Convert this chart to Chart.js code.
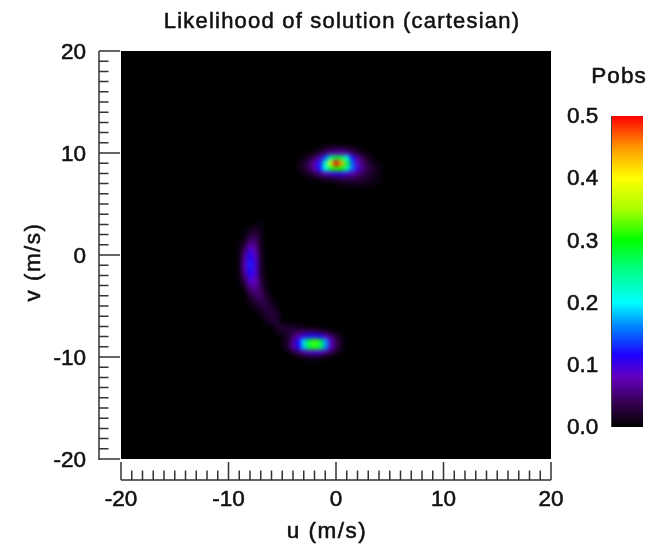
<!DOCTYPE html>
<html><head><meta charset="utf-8">
<script src="https://cdn.jsdelivr.net/npm/chart.js@4.4.1/dist/chart.umd.min.js"></script>
<style>html,body{margin:0;padding:0;background:#fff;}canvas{display:block;}</style>
</head><body>
<canvas id="c" width="651" height="544"></canvas>
<script>
// ---------- text ----------
const titleText = 'Likelihood of solution (cartesian)';
const uTitle = 'u (m/s)';
const vTitle = 'v (m/s)';
const cbTitle = 'Pobs';

// ---------- axes ----------
const uRange = [-20, 20];
const vRange = [-20, 20];
const majorTicks = [-20, -10, 0, 10, 20];
const cbRange = [0, 0.5];
const cbTicks = [0.0, 0.1, 0.2, 0.3, 0.4, 0.5];

// ---------- colour map (value -> colour) ----------
const cmapVals = [0, 0.04, 0.08, 0.115, 0.16, 0.2, 0.25, 0.3, 0.35, 0.4, 0.45, 0.5];
const cmapColors = ['#000000', '#370055', '#6400be', '#1e00ff', '#0080ff', '#00ffff',
                    '#00ff8c', '#00ff00', '#aaff00', '#ffff00', '#ff9600', '#ff0000'];

// ---------- likelihood grid (cells of 0.5 m/s, zero elsewhere) ----------
const cellStep = 0.5;

// upper peak: rows of v, first cell at u = -3.5
const topV = [10.5, 10, 9.5, 9, 8.5, 8, 7.5, 7];
const topU0 = -3.5;
const topP = [
  [0,0,0,0,0.005,0.012,0.018,0.022,0.022,0.018,0.012,0.005,0,0,0,0],
  [0,0,0.005,0.012,0.025,0.045,0.065,0.075,0.075,0.065,0.045,0.025,0.012,0.005,0,0],
  [0,0.008,0.02,0.04,0.075,0.14,0.23,0.28,0.27,0.2,0.12,0.065,0.035,0.015,0.005,0],
  [0.008,0.02,0.04,0.075,0.12,0.22,0.38,0.5,0.44,0.28,0.15,0.085,0.05,0.025,0.012,0.005],
  [0.008,0.02,0.04,0.075,0.12,0.2,0.28,0.31,0.3,0.23,0.15,0.095,0.055,0.035,0.02,0.008],
  [0,0.008,0.018,0.035,0.055,0.075,0.095,0.105,0.105,0.095,0.075,0.055,0.04,0.025,0.015,0.008],
  [0,0,0.005,0.008,0.012,0.018,0.022,0.028,0.032,0.034,0.034,0.03,0.025,0.018,0.012,0.006],
  [0,0,0,0,0,0,0,0.005,0.01,0.012,0.014,0.014,0.012,0.01,0.008,0.005]
];

// lower peak: first cell at u = -5.5
const lowV = [-7, -7.5, -8, -8.5, -9, -9.5, -10];
const lowU0 = -5.5;
const lowP = [
  [0.02,0.025,0.022,0.016,0.01,0.005,0,0,0,0,0,0,0,0],
  [0.012,0.018,0.024,0.03,0.035,0.04,0.04,0.035,0.028,0.018,0.01,0.005,0,0],
  [0,0.006,0.018,0.045,0.075,0.1,0.12,0.12,0.11,0.085,0.055,0.025,0.01,0],
  [0,0.006,0.022,0.065,0.115,0.19,0.28,0.32,0.28,0.17,0.085,0.04,0.012,0],
  [0,0.006,0.022,0.065,0.11,0.18,0.27,0.31,0.27,0.165,0.085,0.04,0.012,0],
  [0,0,0.006,0.022,0.045,0.065,0.085,0.095,0.085,0.065,0.04,0.018,0.006,0],
  [0,0,0,0,0.006,0.012,0.018,0.018,0.016,0.01,0.005,0,0,0]
];

// left arc: first cell at u = -9
const arcV = [3, 2.5, 2, 1.5, 1, 0.5, 0, -0.5, -1, -1.5, -2, -2.5, -3, -3.5, -4, -4.5, -5, -5.5, -6, -6.5];
const arcU0 = -9;
const arcP = [
  [0,0,0,0.006,0.006,0,0,0],
  [0,0,0.012,0.018,0.012,0,0,0],
  [0,0.006,0.025,0.032,0.012,0,0,0],
  [0,0.012,0.042,0.045,0.014,0,0,0],
  [0.004,0.026,0.066,0.056,0.014,0,0,0],
  [0.006,0.044,0.092,0.072,0.015,0,0,0],
  [0.008,0.06,0.108,0.082,0.018,0,0,0],
  [0.008,0.07,0.118,0.088,0.018,0,0,0],
  [0.008,0.074,0.124,0.092,0.02,0,0,0],
  [0.008,0.07,0.118,0.092,0.024,0,0,0],
  [0.006,0.055,0.106,0.088,0.026,0,0,0],
  [0.004,0.036,0.088,0.08,0.03,0.006,0,0],
  [0,0.018,0.064,0.07,0.036,0.007,0,0],
  [0,0.007,0.042,0.058,0.042,0.013,0,0],
  [0,0,0.024,0.044,0.044,0.02,0.005,0],
  [0,0,0.011,0.026,0.037,0.026,0.011,0],
  [0,0,0.005,0.013,0.026,0.03,0.02,0.006],
  [0,0,0,0.005,0.013,0.026,0.026,0.013],
  [0,0,0,0,0.006,0.019,0.026,0.023],
  [0,0,0,0,0,0.013,0.023,0.023]
];

// ---------- build cells ----------
const cells = [];
function addRows(vs, u0, rows) {
  rows.forEach((row, i) => row.forEach((p, j) => {
    if (p > 0) cells.push({ x: u0 + j * cellStep, y: vs[i], p: p });
  }));
}
addRows(topV, topU0, topP);
addRows(lowV, lowU0, lowP);
addRows(arcV, arcU0, arcP);
cells.sort((a, b) => a.p - b.p);

const cmapRGB = cmapColors.map(h => [parseInt(h.substr(1,2),16), parseInt(h.substr(3,2),16), parseInt(h.substr(5,2),16)]);
function colorFor(p) {
  if (p <= cmapVals[0]) return 'rgb(0,0,0)';
  for (let i = 1; i < cmapVals.length; i++) {
    if (p <= cmapVals[i]) {
      const t = (p - cmapVals[i-1]) / (cmapVals[i] - cmapVals[i-1]);
      const a = cmapRGB[i-1], b = cmapRGB[i];
      return 'rgb(' + [0,1,2].map(k => Math.round(a[k] + (b[k]-a[k]) * t)).join(',') + ')';
    }
  }
  const l = cmapRGB[cmapRGB.length-1];
  return 'rgb(' + l.join(',') + ')';
}

const FONT = '"Liberation Sans", Arial, Helvetica, sans-serif';
const INK = '#111';
const AXIS_INK = '#333';
const STROKE = 0.55;

function cellRadius(c) {
  const ch = c.chart, xs = ch.scales.x, ys = ch.scales.y;
  if (!xs || !ys) return 4;
  const sx = Math.abs(xs.getPixelForValue(cellStep) - xs.getPixelForValue(0));
  const sy = Math.abs(ys.getPixelForValue(cellStep) - ys.getPixelForValue(0));
  return (Math.max(sx, sy) + 0.4) * Math.SQRT1_2;
}

// black plot area, then the cells are drawn by the dataset, then softened
const heatPlugin = {
  id: 'heat',
  beforeDatasetsDraw(chart) {
    const { ctx, chartArea: a } = chart;
    ctx.save();
    ctx.fillStyle = '#000';
    ctx.fillRect(a.left, a.top, a.right - a.left, a.bottom - a.top);
    ctx.restore();
  },
  afterDatasetsDraw(chart) {
    const { ctx, chartArea: a, canvas } = chart;
    const L = Math.round(a.left), T = Math.round(a.top);
    const w = Math.round(a.right - a.left), h = Math.round(a.bottom - a.top);
    const off = document.createElement('canvas');
    off.width = w; off.height = h;
    off.getContext('2d').drawImage(canvas, L, T, w, h, 0, 0, w, h);
    ctx.save();
    ctx.beginPath();
    ctx.rect(L, T, w, h);
    ctx.clip();
    ctx.fillStyle = '#000';
    ctx.fillRect(L, T, w, h);
    ctx.filter = 'blur(2px)';
    ctx.drawImage(off, L, T);
    ctx.restore();
  }
};

function text(ctx, s, x, y) {
  ctx.fillText(s, x, y);
  ctx.strokeText(s, x, y);
}

const decorPlugin = {
  id: 'decor',
  afterDraw(chart) {
    const { ctx, chartArea: a } = chart;
    const xs = chart.scales.x, ys = chart.scales.y;
    ctx.save();
    ctx.strokeStyle = AXIS_INK;
    ctx.lineWidth = 1.5;
    // left (v) axis, offset from the plot, ticks pointing toward the plot
    const axX = a.left - 22;
    ctx.beginPath();
    ctx.moveTo(axX, ys.getPixelForValue(vRange[1]));
    ctx.lineTo(axX, ys.getPixelForValue(vRange[0]) + 1);
    ys.ticks.forEach(t => {
      const py = ys.getPixelForValue(t.value);
      const major = majorTicks.includes(Math.round(t.value));
      ctx.moveTo(axX, py);
      ctx.lineTo(axX + (major ? 21 : 9.5), py);
    });
    ctx.stroke();
    // bottom (u) axis
    const axY = a.bottom + 21;
    ctx.beginPath();
    ctx.moveTo(xs.getPixelForValue(uRange[0]), axY);
    ctx.lineTo(xs.getPixelForValue(uRange[1]), axY);
    xs.ticks.forEach(t => {
      const px = xs.getPixelForValue(t.value);
      const major = majorTicks.includes(Math.round(t.value));
      ctx.moveTo(px, axY);
      ctx.lineTo(px, axY - (major ? 18 : 9.5));
    });
    ctx.stroke();

    // titles
    ctx.fillStyle = INK;
    ctx.strokeStyle = INK;
    ctx.lineWidth = STROKE;
    ctx.lineJoin = 'round';
    ctx.textAlign = 'center';
    ctx.textBaseline = 'alphabetic';
    ctx.letterSpacing = '1.2px';
    ctx.font = '22px ' + FONT;
    text(ctx, titleText, 342, 28);
    ctx.letterSpacing = '1.5px';
    ctx.font = '22.5px ' + FONT;
    ctx.textBaseline = 'middle';
    text(ctx, uTitle, 327, 532);
    ctx.save();
    ctx.translate(34, 262);
    ctx.rotate(-Math.PI / 2);
    text(ctx, vTitle, 0, 0);
    ctx.restore();

    // colour bar
    const cbL = a.right + 60, cbW = 32, cbTop = 116, cbBot = 427;
    const cy = v => cbBot - (v - cbRange[0]) / (cbRange[1] - cbRange[0]) * (cbBot - cbTop);
    const g = ctx.createLinearGradient(0, cbBot, 0, cbTop);
    cmapVals.forEach((v, i) => g.addColorStop((v - cbRange[0]) / (cbRange[1] - cbRange[0]), cmapColors[i]));
    ctx.fillStyle = g;
    ctx.fillRect(cbL, cbTop, cbW, cbBot - cbTop);
    ctx.strokeStyle = '#444';
    ctx.lineWidth = 1;
    ctx.beginPath();
    ctx.moveTo(cbL + 0.5, cbTop);
    ctx.lineTo(cbL + 0.5, cbBot);
    ctx.stroke();
    ctx.fillStyle = INK;
    ctx.strokeStyle = INK;
    ctx.lineWidth = STROKE;
    ctx.letterSpacing = '0px';
    ctx.font = '22.5px ' + FONT;
    ctx.textAlign = 'left';
    ctx.textBaseline = 'middle';
    cbTicks.forEach(v => text(ctx, v.toFixed(1), a.right + 16, cy(v) + 1));
    ctx.textAlign = 'center';
    ctx.letterSpacing = '1px';
    text(ctx, cbTitle, 619, 77);
    ctx.restore();
  }
};

const tickFont = { family: FONT, size: 22.5, weight: 'normal' };
const showMajor = v => majorTicks.includes(Math.round(v)) ? String(Math.round(v)) : '';

new Chart(document.getElementById('c'), {
  type: 'scatter',
  data: {
    datasets: [{
      data: cells,
      pointStyle: 'rect',
      pointRadius: cellRadius,
      pointHoverRadius: cellRadius,
      pointBorderWidth: 0,
      pointHoverBorderWidth: 0,
      borderColor: 'rgba(0,0,0,0)',
      backgroundColor: c => colorFor(c.raw ? c.raw.p : 0),
      hoverBackgroundColor: c => colorFor(c.raw ? c.raw.p : 0)
    }]
  },
  options: {
    responsive: false,
    animation: false,
    events: [],
    layout: { padding: { left: 0, right: 100, top: 51, bottom: 0 } },
    plugins: { legend: { display: false }, tooltip: { enabled: false }, title: { display: false } },
    scales: {
      x: {
        type: 'linear', position: 'bottom', min: uRange[0], max: uRange[1],
        afterFit: s => { s.height = 85; },
        grid: { display: false, drawTicks: false },
        border: { display: false },
        ticks: { stepSize: 1, maxTicksLimit: 100, autoSkip: false, maxRotation: 0, minRotation: 0,
                 padding: 27, font: tickFont, color: INK, textStrokeColor: INK, textStrokeWidth: STROKE,
                 callback: showMajor }
      },
      y: {
        type: 'linear', position: 'left', min: vRange[0], max: vRange[1],
        afterFit: s => { s.width = 121; },
        grid: { display: false, drawTicks: false },
        border: { display: false },
        ticks: { stepSize: 1, maxTicksLimit: 100, autoSkip: false, padding: 35, labelOffset: 2,
                 font: tickFont, color: INK, textStrokeColor: INK, textStrokeWidth: STROKE,
                 callback: showMajor }
      }
    }
  },
  plugins: [heatPlugin, decorPlugin]
});
</script>
</body></html>
